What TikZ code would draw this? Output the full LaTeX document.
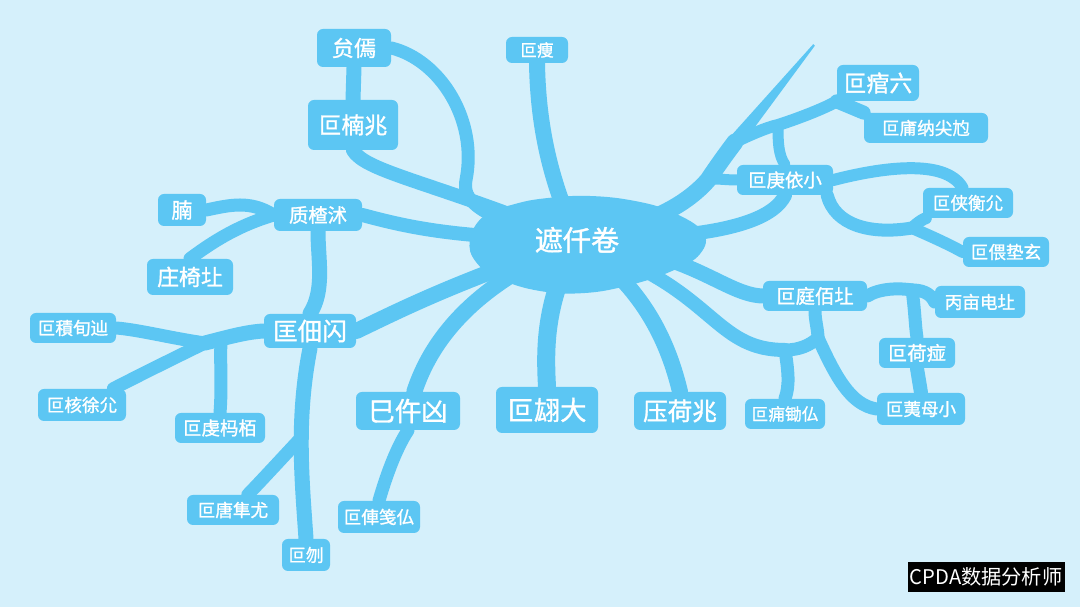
\documentclass[tikz,border=0pt]{standalone}
\usepackage{fontspec}
\newfontfamily\cjk{Noto Sans CJK SC}[FakeBold=1.3]
\newfontfamily\cjkr{Noto Sans CJK SC}
\newcommand\fsz[1]{\fontsize{#1}{#1}\selectfont}
\pgfdeclarelayer{bg}
\pgfdeclarelayer{mid}
\pgfsetlayers{bg,mid,main}
\definecolor{bgc}{RGB}{213,240,251}
\definecolor{brc}{RGB}{92,198,243}
\tikzset{
  br/.style={draw=brc, line width={#1*0.02cm}, line cap=round, line join=round},
  sz/.style 2 args={minimum width={#1*0.02cm}, minimum height={#2*0.02cm}},
  lbl/.style={fill=brc, text=white, rounded corners=0.12cm, inner sep=0pt},
}
\begin{document}
\begin{tikzpicture}[x=0.02cm,y=-0.02cm]
\useasboundingbox (0,0) rectangle (1080,607);
% ---- nodes
\node[font=\cjk\fsz{16}, text=white] (C) at (577,240) {遮仟卷};
\node[lbl, sz={74}{38}, font=\cjk\fsz{12.5}] (n1) at (354,48) {贠傿};
\node[lbl, sz={90}{50}, font=\cjk\fsz{13}] (n2) at (353,125) {叵楠兆};
\node[lbl, sz={62}{26}, font=\cjk\fsz{9.5}] (n3) at (537,50) {叵痩};
\node[lbl, sz={82}{36}, font=\cjk\fsz{13}] (n4) at (878,83) {叵痯六};
\node[lbl, sz={124}{30}, font=\cjk\fsz{10}] (n5) at (926,128) {叵庯纳尖尥};
\node[lbl, sz={96}{30}, font=\cjk\fsz{10.5}] (n6) at (785,180) {叵庚依小};
\node[lbl, sz={90}{30}, font=\cjk\fsz{10}] (n7) at (968,203) {叵侠衡尣};
\node[lbl, sz={86}{30}, font=\cjk\fsz{10}] (n8) at (1006,252) {叵偎垫玄};
\node[lbl, sz={48}{32}, font=\cjk\fsz{12}] (n10) at (182,210) {腩};
\node[lbl, sz={88}{32}, font=\cjk\fsz{11}] (n11) at (318,215) {质楂沭};
\node[lbl, sz={86}{36}, font=\cjk\fsz{12.5}] (n12) at (190,277) {庄椅圵};
\node[lbl, sz={92}{34}, font=\cjk\fsz{14}] (n13) at (310,331) {匡佃闪};
\node[lbl, sz={86}{30}, font=\cjk\fsz{10}] (n14) at (73,328) {叵積旬辿};
\node[lbl, sz={88}{32}, font=\cjk\fsz{10}] (n15) at (82,405) {叵核徐尣};
\node[lbl, sz={90}{30}, font=\cjk\fsz{10.5}] (n16) at (220,428) {叵虔杩栢};
\node[lbl, sz={104}{38}, font=\cjk\fsz{15}] (n17) at (408,411) {巳仵凶};
\node[lbl, sz={102}{46}, font=\cjk\fsz{15}] (n18) at (547,410) {叵翃大};
\node[lbl, sz={92}{38}, font=\cjk\fsz{14}] (n19) at (680,411) {压荷兆};
\node[lbl, sz={104}{30}, font=\cjk\fsz{11}] (n20) at (815,296) {叵庭佰圵};
\node[lbl, sz={90}{32}, font=\cjk\fsz{10}] (n21) at (980,302) {丙亩电圵};
\node[lbl, sz={76}{30}, font=\cjk\fsz{11}] (n22) at (917,353) {叵荷痖};
\node[lbl, sz={88}{32}, font=\cjk\fsz{10}] (n23) at (921,409) {叵荑母小};
\node[lbl, sz={80}{30}, font=\cjk\fsz{9.5}] (n24) at (785,414) {叵痈锄仏};
\node[lbl, sz={92}{30}, font=\cjk\fsz{10}] (n25) at (233,510) {叵唐隼尤};
\node[lbl, sz={82}{32}, font=\cjk\fsz{10}] (n26) at (379,517) {叵俥笺仏};
\node[lbl, sz={48}{32}, font=\cjk\fsz{10}] (n27) at (306,555) {叵刎};
\node[fill=black, text=white, sz={157}{30}, inner sep=0pt, font=\cjkr\fsz{11.5}] (wm) at (986,577) {CPDA数据分析师};
% ---- junction coordinates
\coordinate (J2) at (205,343);
\coordinate (J3) at (221,341);
\coordinate (J4) at (299,440);
\coordinate (J5) at (735,142);
\coordinate (J6) at (778,125);
\coordinate (J7) at (708,180);
\coordinate (J8) at (912,228);
\coordinate (J9) at (818,338);
\coordinate (J10) at (785,350);
\coordinate (J11) at (912,290);
\coordinate (T3) at (814,45);
\begin{pgfonlayer}{bg}
\fill[bgc] (0,0) rectangle (1080,607);
% top-left group
\draw[br=16] (n3.south) .. controls (538,120) and (548,170) .. (C);
\draw[br=13] (n1.east) .. controls (440,60) and (478,120) .. (466,180) .. controls (462,200) and (480,215) .. (C);
\draw[br=15] (n1.south) -- (n2.north);
\draw[br=14] (n2.south) .. controls (365,170) and (420,180) .. (C);
% left group
\draw[br=14] (n11.east) .. controls (400,225) and (440,235) .. (C);
\draw[br=16] (n13.east) .. controls (400,310) and (440,290) .. (C);
\draw[br=13] (n11.west) .. controls (250,200) and (230,205) .. (n10.east);
\draw[br=13] (n11.west) .. controls (240,225) and (215,240) .. (n12.north);
\draw[br=15] (n11.south) .. controls (318,260) and (325,290) .. (n13.north);
\draw[br=15] (n13.west) .. controls (245,332) and (225,338) .. (J2);
\draw[br=13] (J2) .. controls (170,338) and (140,330) .. (n14.east);
\draw[br=13] (J2) .. controls (170,360) and (130,380) .. (n15);
\draw[br=13] (n16.north) .. controls (222,390) and (220,360) .. (J3);
\draw[br=15] (n13.south) .. controls (296,420) and (302,480) .. (n27.north);
\draw[br=13] (n25) .. controls (262,480) and (285,455) .. (J4);
% bottom group
\draw[br=16] (n17) .. controls (428,350) and (460,300) .. (C);
\draw[br=13] (n17.south) .. controls (395,450) and (385,480) .. (n26.north);
\draw[br=18] (n18.north) .. controls (545,350) and (545,310) .. (C);
\draw[br=16] (n19.north) .. controls (670,350) and (650,300) .. (C);
% upper right group
\draw[br=17] (C) .. controls (670,215) and (695,195) .. (J7) .. controls (718,165) and (726,154) .. (J5);
\fill[brc] (729.5,137.5) -- (813.2,44.2) -- (814.8,45.8) -- (740.5,146.5) -- cycle;
\draw[br=12] (J5) .. controls (750,135) and (765,128) .. (J6) .. controls (800,118) and (825,108) .. (n4.south west);
\draw[br=14] (n4.south west) -- (n5.north west);
\draw[br=11] (J6) .. controls (778,140) and (778,155) .. (n6.north);
\draw[br=11] (n6.west) .. controls (725,180) and (715,178) .. (J7);
\draw[br=14] (n6.south) .. controls (775,215) and (740,235) .. (C);
\draw[br=12] (n6.east) .. controls (880,168) and (945,158) .. (n7.110);
\draw[br=13] (n6.-20) .. controls (835,225) and (870,235) .. (J8);
\draw[br=12] (J8) .. controls (918,222) and (925,218) .. (n7.-160);
\draw[br=12] (J8) .. controls (935,238) and (950,245) .. (n8.west);
% lower right group
\draw[br=15] (C) .. controls (700,262) and (730,295) .. (n20.west);
\draw[br=14] (C) .. controls (715,300) and (720,350) .. (J10);
\draw[br=13] (J10) .. controls (800,350) and (810,345) .. (J9);
\draw[br=13] (n20.south) .. controls (815,320) and (818,330) .. (J9);
\draw[br=13] (J9) .. controls (835,375) and (850,405) .. (n23.west);
\draw[br=13] (J10) .. controls (788,370) and (790,385) .. (n24.north);
\draw[br=13] (n20.east) .. controls (880,288) and (900,288) .. (J11);
\draw[br=13] (J11) .. controls (920,290) and (930,292) .. (n21.west);
\draw[br=13] (J11) .. controls (915,310) and (915,325) .. (n22.north);
\draw[br=14] (n22.south) -- (n23.north);
\end{pgfonlayer}
\begin{pgfonlayer}{mid}
\fill[brc] plot[smooth cycle, tension=0.7] coordinates {(470,240) (484,216) (515,204) (548,198) (590,196) (635,201) (672,212) (703,232) (700,254) (672,271) (630,285) (585,293) (540,291) (500,279) (476,262)};
\end{pgfonlayer}
\end{tikzpicture}
\end{document}
